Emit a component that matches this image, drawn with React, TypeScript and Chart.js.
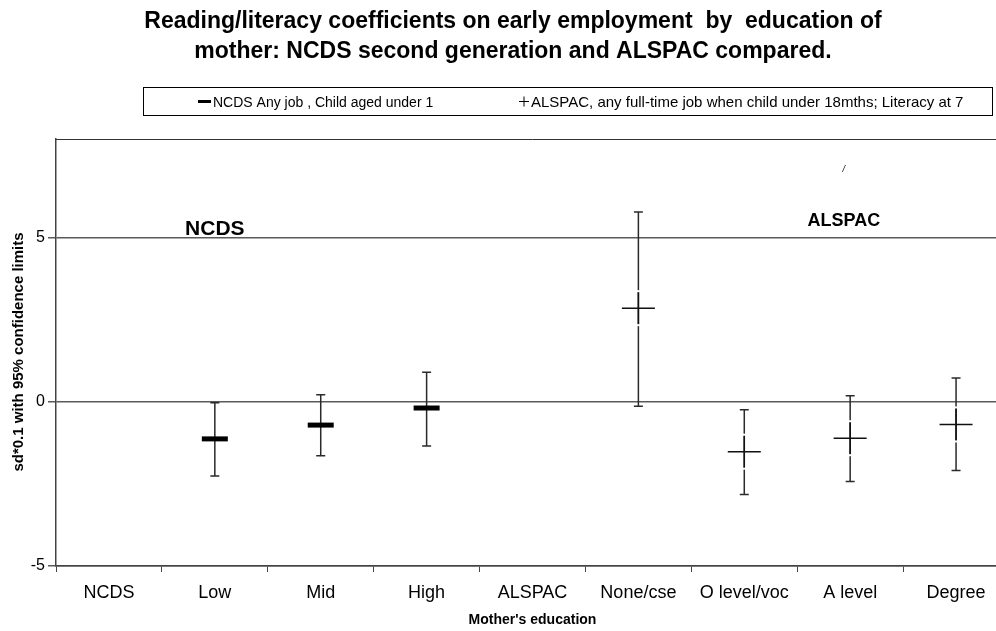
import React, { useEffect, useRef } from 'react';
import { Chart, registerables } from 'chart.js';

Chart.register(...registerables);

// ---------- data ----------
const categories = ['NCDS', 'Low', 'Mid', 'High', 'ALSPAC', 'None/cse', 'O level/voc', 'A level', 'Degree'];

const ncdsMean = [null, -1.13, -0.71, -0.19, null, null, null, null, null];
const ncdsLower = [null, -2.26, -1.64, -1.35, null, null, null, null, null];
const ncdsUpper = [null, -0.03, 0.21, 0.9, null, null, null, null, null];

const alspacMean = [null, null, null, null, null, 2.85, -1.52, -1.11, -0.69];
const alspacLower = [null, null, null, null, null, -0.14, -2.82, -2.43, -2.09];
const alspacUpper = [null, null, null, null, null, 5.78, -0.24, 0.18, 0.72];

const yTickValues = [-5, 0, 5];
const yMin = -5;
const yMax = 8;

const seriesLabels = [
  'NCDS Any job , Child aged under 1',
  'ALSPAC, any full-time job when child under 18mths; Literacy at 7',
];
const titleLines = [
  'Reading/literacy coefficients on early employment  by  education of',
  'mother: NCDS second generation and ALSPAC compared.',
];
const yAxisTitle = 'sd*0.1 with 95% confidence limits';
const xAxisTitle = "Mother's education";
const annotations = [
  { text: 'NCDS', x: 1.0, y: 5.07, size: 21 },
  { text: 'ALSPAC', x: 6.94, y: 5.36, size: 18 },
];

const FONT = '"Liberation Sans", Arial, Helvetica, sans-serif';

// ---------- plugins ----------
const errorBarPlugin = {
  id: 'errorBars',
  beforeDatasetsDraw(chart: any) {
    const { ctx } = chart;
    const x = chart.scales.x;
    const y = chart.scales.y;
    const sets = [
      [ncdsLower, ncdsUpper],
      [alspacLower, alspacUpper],
    ];
    ctx.save();
    ctx.strokeStyle = '#2a2a2a';
    ctx.lineWidth = 1.5;
    sets.forEach(([lo, hi]) => {
      lo.forEach((l, i) => {
        const h = hi[i];
        if (l == null || h == null) return;
        const px = x.getPixelForValue(i);
        const y1 = y.getPixelForValue(l);
        const y2 = y.getPixelForValue(h);
        ctx.beginPath();
        ctx.moveTo(px, y1);
        ctx.lineTo(px, y2);
        ctx.moveTo(px - 4.5, y1);
        ctx.lineTo(px + 4.5, y1);
        ctx.moveTo(px - 4.5, y2);
        ctx.lineTo(px + 4.5, y2);
        ctx.stroke();
      });
    });
    ctx.restore();
  },
  afterDatasetsDraw(chart: any) {
    // small white gaps on the vertical line just beyond the "+" marker arms
    const { ctx } = chart;
    const x = chart.scales.x;
    const y = chart.scales.y;
    ctx.save();
    ctx.fillStyle = '#fff';
    alspacMean.forEach((m, i) => {
      if (m == null) return;
      const px = x.getPixelForValue(i);
      const py = y.getPixelForValue(m);
      ctx.fillRect(px - 1.5, py - 18, 3, 2);
      ctx.fillRect(px - 1.5, py + 16, 3, 2);
    });
    ctx.restore();
  },
};

const decorPlugin = {
  id: 'decor',
  afterDraw(chart: any) {
    const { ctx, chartArea } = chart;
    const x = chart.scales.x;
    const y = chart.scales.y;
    ctx.save();

    // top / right border of plot area
    ctx.strokeStyle = '#333';
    ctx.lineWidth = 1;
    ctx.beginPath();
    ctx.moveTo(chartArea.left, chartArea.top + 0.5);
    ctx.lineTo(chartArea.right, chartArea.top + 0.5);
    ctx.moveTo(chartArea.right - 0.5, chartArea.top);
    ctx.lineTo(chartArea.right - 0.5, chartArea.bottom);
    ctx.stroke();

    ctx.fillStyle = '#000';
    // title
    ctx.font = `bold 23px ${FONT}`;
    ctx.textAlign = 'center';
    ctx.textBaseline = 'alphabetic';
    ctx.fillText(titleLines[0], 513, 28);
    ctx.fillText(titleLines[1], 513, 58);

    // legend box
    ctx.strokeStyle = '#000';
    ctx.lineWidth = 1;
    ctx.strokeRect(143.5, 87.5, 849, 28);
    ctx.font = `14px ${FONT}`;
    ctx.textAlign = 'left';
    // NCDS marker
    ctx.fillRect(198, 100, 13, 3);
    ctx.fillText(seriesLabels[0], 213, 107);
    // ALSPAC marker
    ctx.beginPath();
    ctx.moveTo(519, 101.5);
    ctx.lineTo(529, 101.5);
    ctx.moveTo(524, 96.5);
    ctx.lineTo(524, 106.5);
    ctx.stroke();
    ctx.font = `15px ${FONT}`;
    ctx.fillText(seriesLabels[1], 531, 107);

    // annotations inside plot
    annotations.forEach((a) => {
      ctx.font = `bold ${a.size}px ${FONT}`;
      ctx.textAlign = 'center';
      ctx.fillText(a.text, x.getPixelForValue(a.x), y.getPixelForValue(a.y));
    });
    ctx.font = `italic 9px ${FONT}`;
    ctx.fillText('/', x.getPixelForValue(6.94), y.getPixelForValue(7.0));

    // axis titles
    ctx.font = `bold 14px ${FONT}`;
    ctx.textAlign = 'center';
    ctx.textBaseline = 'middle';
    ctx.fillText(xAxisTitle, (chartArea.left + chartArea.right) / 2, 620);
    ctx.font = `bold 15px ${FONT}`;
    ctx.translate(19, 352);
    ctx.rotate(-Math.PI / 2);
    ctx.fillText(yAxisTitle, 0, 0);
    ctx.restore();
  },
};

// ---------- component ----------
export default function App() {
  const canvasRef = useRef<HTMLCanvasElement | null>(null);

  useEffect(() => {
    if (!canvasRef.current) return;
    const chart = new Chart(canvasRef.current, {
      type: 'line',
      data: {
        labels: categories,
        datasets: [
          {
            label: seriesLabels[0],
            data: ncdsMean as any,
            showLine: false,
            pointStyle: 'line',
            pointRadius: 13,
            pointBorderWidth: 5,
            borderColor: '#000',
            backgroundColor: '#000',
            pointBorderColor: '#000',
          },
          {
            label: seriesLabels[1],
            data: alspacMean as any,
            showLine: false,
            pointStyle: 'cross',
            pointRadius: 16.5,
            pointBorderWidth: 1.5,
            borderColor: '#111',
            backgroundColor: '#111',
            pointBorderColor: '#111',
          },
        ],
      },
      options: {
        responsive: false,
        devicePixelRatio: 1,
        animation: false,
        events: [],
        layout: { autoPadding: false, padding: { top: 139, right: 3, left: 0, bottom: 0 } },
        plugins: {
          legend: { display: false },
          tooltip: { enabled: false },
          title: { display: false },
        },
        scales: {
          x: {
            type: 'category',
            offset: true,
            grid: {
              offset: true,
              drawOnChartArea: false,
              drawTicks: true,
              tickLength: 6,
              color: '#444',
              lineWidth: 1,
            },
            border: { display: true, color: '#444', width: 1.5 },
            ticks: {
              font: { family: FONT, size: 18 },
              color: '#000',
              padding: 10,
              maxRotation: 0,
              autoSkip: false,
            },
            afterFit: (s: any) => {
              s.height = 65;
            },
          },
          y: {
            type: 'linear',
            min: yMin,
            max: yMax,
            afterBuildTicks: (s: any) => {
              s.ticks = yTickValues.map((v) => ({ value: v }));
            },
            grid: { color: '#5a5a5a', lineWidth: 1.5, tickLength: 8, drawTicks: true },
            border: { display: true, color: '#444', width: 1.5 },
            ticks: { font: { family: FONT, size: 16 }, color: '#000', padding: 3 },
            afterFit: (s: any) => {
              s.width = 56;
            },
          },
        },
      },
      plugins: [errorBarPlugin, decorPlugin],
    });
    return () => chart.destroy();
  }, []);

  return (
    <div
      style={{
        position: 'fixed',
        left: 0,
        top: 0,
        width: 996,
        height: 631,
        overflow: 'hidden',
        background: '#fff',
      }}
    >
      <div style={{ position: 'relative', width: 1012, height: 631 }}>
        <canvas
          ref={canvasRef}
          width={1012}
          height={631}
          style={{ display: 'block', width: 1012, height: 631 }}
        />
      </div>
    </div>
  );
}
